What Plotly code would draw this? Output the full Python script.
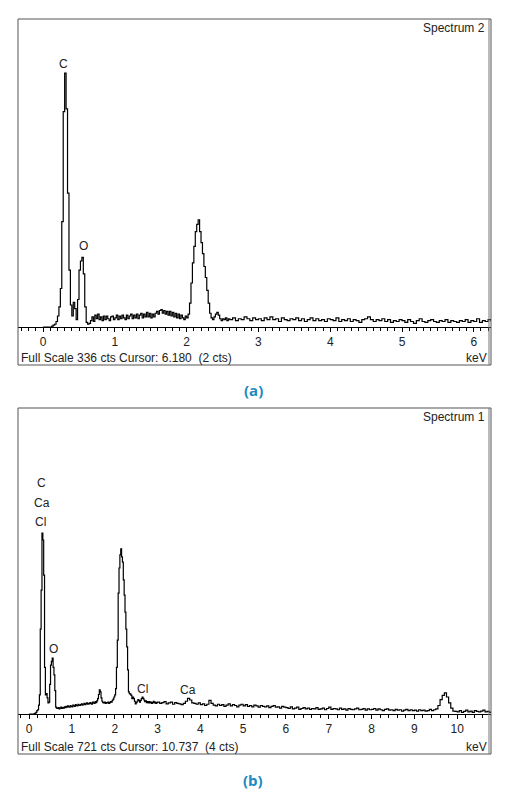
import numpy as np
import plotly.graph_objects as go

# page body adds an 8px margin, so the figure is drawn a little smaller
W, H = 498, 785
OFF = 8

# ---- spectrum (a) : channel blocks (start keV, width keV) + counts ----
a1_start, a1_step = 0.00, 0.02
counts_a1 = [
    0, 0, 0, 0, 0, 0, 1, 2, 3, 6,
    12, 22, 42, 115, 235, 277, 238, 146, 62, 24,
    12, 27, 20, 8, 30, 62, 72, 76, 58, 22,
    5, 3, 4, 7, 11, 6, 13, 9, 14, 8,
    11, 7, 12, 8, 12, 9, 7, 11, 12, 8,
    10, 13, 8, 12, 9, 13, 10, 8, 13, 9,
    12, 14, 9, 13, 10, 14, 9, 13, 15, 10,
    14, 11, 16, 11, 15, 10, 14, 11, 15, 17,
    14, 18, 19, 15, 18, 14, 17, 13, 17, 12,
    16, 11, 15, 10, 14, 9, 13, 10, 8, 12,
    10, 14, 26, 48, 70, 88, 104, 112, 117, 104,
    92, 80, 66, 54, 40, 26, 15, 10, 8, 11,
    14, 16, 13, 9, 7, 9, 8, 10, 7, 9,
]
a2_start, a2_step = 2.60, 0.04
counts_a2 = [
    8, 10, 7, 9, 8, 11, 9, 7, 10, 8,
    9, 7, 10, 8, 11, 8, 9, 6, 10, 8,
    7, 9, 8, 10, 7, 9, 6, 8, 10, 7,
    9, 7, 8, 6, 9, 8, 7, 10, 6, 8,
    7, 9, 6, 8, 7, 5, 8, 9, 11, 8,
    6, 8, 7, 9, 6, 8, 5, 7, 6, 8,
    7, 5, 8, 6, 4, 7, 9, 6, 5, 7,
    8, 6, 5, 7, 6, 8, 5, 7, 6, 5,
    7, 6, 8, 5, 7, 6, 9, 5, 7, 6,
    8, 6,
]

# ---- spectrum (b) ----
b1_start, b1_step = 0.00, 0.02
counts_b1 = [
    0, 0, 0, 0, 0, 0, 1, 2, 4, 8,
    10, 21, 45, 200, 292, 426, 410, 327, 110, 45,
    48, 38, 26, 28, 70, 115, 124, 132, 110, 92,
    55, 16, 14, 13, 15, 12, 14, 16, 13, 15,
    14, 17, 15, 18, 16, 19, 17, 16, 20, 18,
    17, 21, 19, 18, 22, 20, 19, 23, 21, 20,
    22, 24, 21, 23, 25, 22, 24, 26, 23, 25,
    24, 27, 25, 23, 28, 26, 25, 29, 27, 31,
    36, 46, 57, 52, 38, 30, 27, 26, 28, 25,
    27, 26, 28, 25, 27, 29, 28, 32, 35, 40,
    45, 60, 110, 174, 285, 344, 375, 389, 370, 358,
    316, 280, 240, 200, 158, 104, 52, 48, 47, 44,
    36, 40, 36, 30, 24, 27, 30, 34, 32, 28,
    32, 36, 40, 37, 33, 29, 31, 27, 29, 26,
    29, 26, 28, 25, 27, 30, 26, 28, 25, 27,
]
b2_start, b2_step = 3.00, 0.05
counts_b2 = [
    28, 25, 27, 29, 24, 26, 28, 23, 27, 25, 24, 22, 25, 30, 37, 33, 26, 25, 23, 26,
    22, 24, 20, 23, 32, 25, 21, 19, 23, 20, 22, 18, 21, 24, 19, 22, 20, 17, 21, 23,
    19, 22, 18, 20, 17, 21, 19, 16, 20, 18, 17, 19, 15, 18, 20, 16, 17, 14, 18, 16,
    15, 13, 17, 12, 14, 16, 11, 13, 15, 12, 14, 11, 13, 12, 15, 11, 12, 14, 10, 13,
    16, 11, 13, 12, 10, 14, 11, 12, 9, 13, 11, 10, 12, 14, 10, 11, 13, 9, 12, 10,
    11, 13, 9, 12, 10, 8, 11, 12, 9, 10, 8, 11, 9, 10, 7, 9, 11, 8, 10, 8,
    9, 7, 10, 8, 9, 7, 8, 11, 8, 10, 12, 20, 34, 44, 50, 40, 26, 14, 7, 6,
    5, 8, 4, 6, 9, 5, 7, 4, 8, 6, 5, 7, 9, 5, 6, 4, 7,
]

# peak labels: (text, keV, cts)
labels_a = [("C", 0.29, 287), ("O", 0.557, 88)]
labels_b = [("C", 0.28, 544), ("Ca", 0.30, 497), ("Cl", 0.26, 452),
            ("O", 0.56, 153), ("Cl", 2.64, 59), ("Ca", 3.71, 57)]

full_scale_a, full_scale_b = 336, 721


def channels(start, step, counts):
    return start + step * np.arange(len(counts))


e_a = np.concatenate([channels(a1_start, a1_step, counts_a1),
                      channels(a2_start, a2_step, counts_a2)])
c_a = counts_a1 + counts_a2
e_b = np.concatenate([channels(b1_start, b1_step, counts_b1),
                      channels(b2_start, b2_step, counts_b2)])
c_b = counts_b1 + counts_b2


# convert window pixel positions to paper coords
def px(x):
    return (x - OFF) / W


def py(y):
    return 1 - (y - OFF) / H


FONT = "Liberation Sans, Arial, sans-serif"
TXT = dict(family=FONT, size=12, color="#222")

fig = go.Figure()
fig.add_trace(go.Scatter(x=e_a, y=c_a, mode="lines", xaxis="x", yaxis="y",
                         line=dict(color="black", width=1.2, shape="hv"),
                         showlegend=False, hoverinfo="skip"))
fig.add_trace(go.Scatter(x=e_b, y=c_b, mode="lines", xaxis="x2", yaxis="y2",
                         line=dict(color="black", width=1.2, shape="hv"),
                         showlegend=False, hoverinfo="skip"))

xcommon = dict(tick0=0, dtick=1, ticks="outside", ticklen=4, tickcolor="black",
               showline=True, linecolor="black", linewidth=1,
               showgrid=False, zeroline=False, tickfont=TXT)

fig.update_layout(
    width=W, height=H, autosize=False,
    margin=dict(l=0, r=0, t=0, b=0),
    paper_bgcolor="white", plot_bgcolor="white",
    font=TXT,
    xaxis=dict(domain=[px(18), px(491)], anchor="y", range=[-0.35, 6.24],
               minor=dict(dtick=0.1, ticks="outside", ticklen=3, tickcolor="black", showgrid=False),
               **xcommon),
    yaxis=dict(domain=[py(327), py(19)], range=[0, full_scale_a], visible=False),
    xaxis2=dict(domain=[px(18), px(491)], anchor="y2", range=[-0.26, 10.79],
                minor=dict(dtick=0.2, ticks="outside", ticklen=3, tickcolor="black", showgrid=False),
                **xcommon),
    yaxis2=dict(domain=[py(714), py(408)], range=[0, full_scale_b], visible=False),
)

# instrument window frames
for top, bot in [(19, 365), (408, 754)]:
    fig.add_shape(type="rect", xref="paper", yref="paper",
                  x0=px(18), x1=px(491), y0=py(bot), y1=py(top),
                  line=dict(color="#555", width=1))
    fig.add_shape(type="line", xref="paper", yref="paper",
                  x0=px(489), x1=px(489), y0=py(bot), y1=py(top),
                  line=dict(color="#777", width=1))

ann = []
for name, y_name, y_info, cts, cursor in [
        ("Spectrum 2", 28, 358, full_scale_a, "6.180 \u00a0(2 cts)"),
        ("Spectrum 1", 417, 747, full_scale_b, "10.737 \u00a0(4 cts)")]:
    ann.append(dict(text=name, x=px(487), y=py(y_name), xanchor="right", yanchor="middle"))
    ann.append(dict(text=f"Full Scale {cts} cts Cursor: {cursor}",
                    x=px(19), y=py(y_info), xanchor="left", yanchor="middle"))
    ann.append(dict(text="keV", x=px(489), y=py(y_info), xanchor="right", yanchor="middle"))
for a in ann:
    a.update(xref="paper", yref="paper", showarrow=False, font=TXT)

for t, x, y in labels_a:
    ann.append(dict(text=t, x=x, y=y, xref="x", yref="y", showarrow=False, font=TXT))
for t, x, y in labels_b:
    ann.append(dict(text=t, x=x, y=y, xref="x2", yref="y2", showarrow=False, font=TXT))

for t, y in [("(a)", 390), ("(b)", 780)]:
    ann.append(dict(text=f"<b>{t}</b>", x=px(253), y=py(y), xref="paper", yref="paper",
                    showarrow=False, xanchor="center", yanchor="middle",
                    font=dict(family="Open Sans, sans-serif", size=15, color="#1b8ac0")))

fig.update_layout(annotations=ann)

fig.write_html("out.html")
